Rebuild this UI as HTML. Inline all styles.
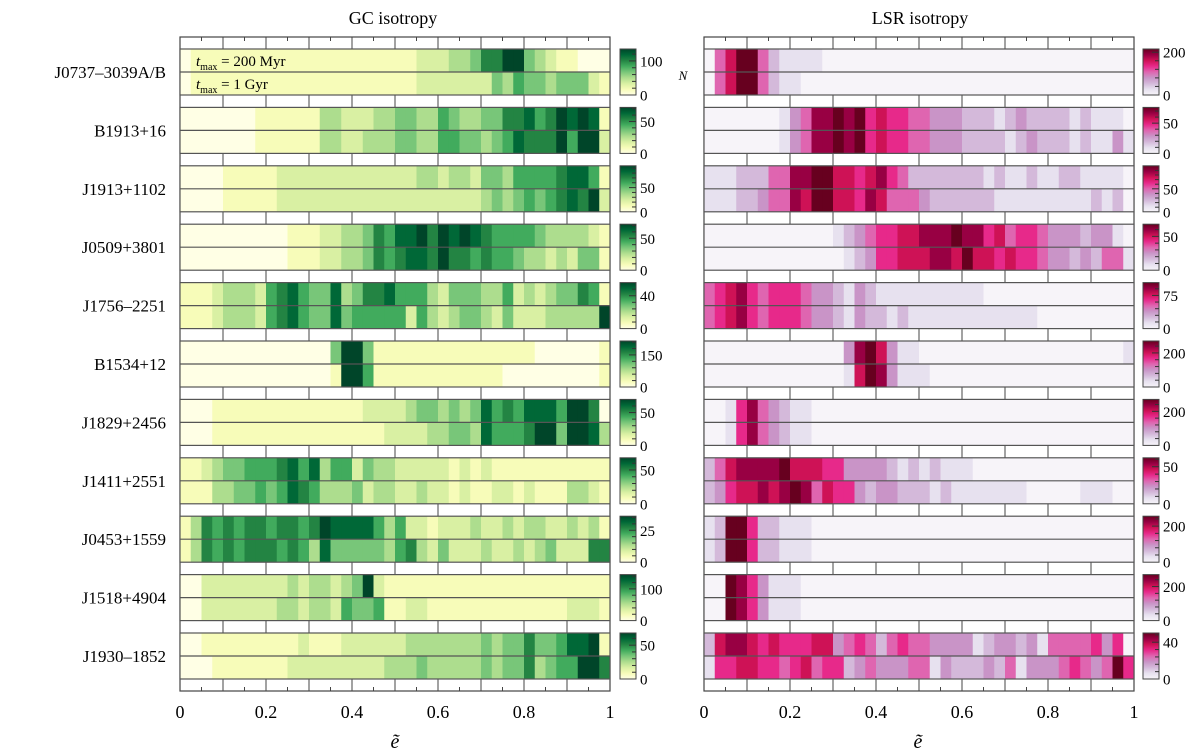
<!DOCTYPE html>
<html><head><meta charset="utf-8">
<style>
body{margin:0;background:#fff;}
svg{display:block;font-family:"Liberation Serif","DejaVu Serif",serif;}
</style></head>
<body>
<svg id="fig" width="1200" height="753" viewBox="0 0 1200 753">
<text x="393" y="24" font-size="18" text-anchor="middle">GC isotropy</text>
<text x="920" y="24" font-size="18" text-anchor="middle">LSR isotropy</text>
<text x="395" y="748" font-size="20" font-style="italic" text-anchor="middle">ẽ</text>
<text x="918" y="748" font-size="20" font-style="italic" text-anchor="middle">ẽ</text>
<text x="683" y="80" font-size="13" font-style="italic" text-anchor="middle">N</text>
<g id="layer"></g>
</svg>
<script>
const pulsars=["J0737–3039A/B","B1913+16","J1913+1102","J0509+3801","J1756–2251","B1534+12","J1829+2456","J1411+2551","J0453+1559","J1518+4904","J1930–1852"];
const xTicks=[0,0.2,0.4,0.6,0.8,1];
const xTickLabels=["0","0.2","0.4","0.6","0.8","1"];
// levels 0-8 per bin (40 bins), [200 Myr, 1 Gyr]
const gcTop=["0111111111111111111111222334668843211000","0000000111111332223344335433446675687871","0000111112222222222222332332443555567751","0000000000111223346577868787655554333321","1112333256754473466755532444335232344651","0000000000000048841111111111111110000001","0001111111111111122223443434756577758860","1123445556757355243322222121211111111111","1365656656656877775352212223223233223231","0022222222323323482111111111111111111111","0011111111121112222223333333434464457781"];
const gcBot=["0111111111111111111111222222243544344421","0000000111111332233344335544345766685882","0000111112222222222222222222343454567682","0000000000111223346567768665655433232441","1112333256754474555552532344324222333338","0000000000000018851111111111110000000001","0001111111111111111222233443755568848873","1113344545765333423322322121122121113321","1365656665653744444356324222322323422266","0022222223323325445112211111111111112221","0001111111222222222333433333434463455886"];
const lsrTop=["0468842111100000000000000000000000000000","0000000134778785655443332221232222121110","1112224477886656754222222212112112211110","0000000000001234556677787756455433323310","4567545554332132111111111100000000000000","0000000000000378631100000000000000000001","0015743211000000000000000000000000000000","2467777866655333321212111000000000000000","1288522111000000000000000000000000000000","0087531110000000000000000000000000000000","2677656555663454245443333123323144445350"];
const lsrBot=["0468842110000000000000000000000000000000","0000000134778785655443332222123222121131","1112234476886657644432222221111111112120","0000000000000123556667768665655433232441","4567545554332132212111111111111000000000","0000000000000168731110000000000000000000","0015743211000000000000000000000000000000","2356676787465532332221211111110000011100","1288522111000000000000000000000000000000","0087531110000000000000000000000000000000","1556655456455234333441322232413334543485"];
const gcCbTick=[100,50,50,50,40,150,50,50,25,100,50];
const gcCbMax=[135,72,95,72,56,215,70,68,36,145,68];
const lsrCbTick=[200,50,50,50,75,200,200,50,200,200,40];
const lsrCbMax=[215,76,100,68,104,270,270,62,255,270,50];

const YlGn=["#ffffe5","#f7fcb9","#d9f0a3","#addd8e","#78c679","#41ab5d","#238443","#006837","#004529"];
const PuRd=["#f7f4f9","#e7e1ef","#d4b9da","#c994c7","#df65b0","#e7298a","#ce1256","#980043","#67001f"];
const NS="http://www.w3.org/2000/svg";
const layer=document.getElementById('layer');
const defs=document.createElementNS(NS,'defs');layer.appendChild(defs);
function mk(tag,attrs,parent){const e=document.createElementNS(NS,tag);for(const k in attrs)e.setAttribute(k,attrs[k]);(parent||layer).appendChild(e);return e;}
const NB=40, PITCH=58.4, HT=23, TOP0=49, FRAME_TOP=37, FRAME_BOT=691;
function rowTop(i){return TOP0+i*PITCH;}
function gradient(id,cm){const g=mk('linearGradient',{id:id,x1:0,y1:1,x2:0,y2:0},defs);cm.forEach((c,k)=>mk('stop',{offset:k/(cm.length-1),'stop-color':c},g));}
gradient('gYlGn',YlGn);gradient('gPuRd',PuRd);

function panel(key,x0,x1,top,bot,cm,grad,cbX,cbTick,cbMax){
  const xs=v=>x0+v*(x1-x0);
  const bw=(x1-x0)/NB;
  const g=mk('g',{});
  
  
  // frame
  const fr=mk('rect',{x:x0,y:FRAME_TOP,width:x1-x0,height:FRAME_BOT-FRAME_TOP,fill:'#fff',stroke:'#444','stroke-width':1.2},g);
  
  
  // ticks spanning gaps
  for(let r=0;r<=pulsars.length;r++){
    const ya=r===0?FRAME_TOP:rowTop(r-1)+2*HT;
    const yb=r===pulsars.length?FRAME_BOT:rowTop(r);
    for(let t=1;t<10;t++){mk('line',{x1:xs(t/10),x2:xs(t/10),y1:ya,y2:yb,stroke:'#444','stroke-width':1},g);}
    if(r===0||r===pulsars.length){
      for(let t=0;t<10;t++){const xm=xs(t/10+0.05);
        if(r===0)mk('line',{x1:xm,x2:xm,y1:ya,y2:ya+4,stroke:'#444'},g);
        else mk('line',{x1:xm,x2:xm,y1:yb-4,y2:yb,stroke:'#444'},g);}
    }
  }
  pulsars.forEach((p,i)=>{
    const y=rowTop(i);
    [top[i],bot[i]].forEach((s,j)=>{
      for(let b=0;b<NB;b++){
        const lv=+s[b];
        const rc=mk('rect',{x:xs(b/NB),y:y+j*HT,width:bw+0.4,height:HT,fill:cm[lv]},g);
        
        
      }
    });
    mk('rect',{x:x0,y:y,width:x1-x0,height:2*HT,fill:'none',stroke:'#555','stroke-width':1.2},g);
    mk('line',{x1:x0,x2:x1,y1:y+HT,y2:y+HT,stroke:'#555','stroke-width':1.2},g);
    // colorbar
    const cb=mk('rect',{x:cbX,y:y,width:16,height:2*HT,fill:'url(#'+grad+')',stroke:'#444','stroke-width':1},g);
    
    
    const yv=v=>y+2*HT-(v/cbMax[i])*2*HT;
    const step=cbTick[i]/5;
    for(let v=step;v<cbMax[i];v+=step){const ty=yv(v);mk('line',{x1:cbX+16,x2:cbX+(Math.abs(v-cbTick[i])<1e-6?9:12),y1:ty,y2:ty,stroke:'#333','stroke-width':1},g);}
    const t1=mk('text',{x:cbX+20,y:yv(cbTick[i])+5.5,'font-size':15},g);t1.textContent=cbTick[i];
    
    
    const t0=mk('text',{x:cbX+20,y:y+2*HT+5.5,'font-size':15},g);t0.textContent='0';
    
    
  });
  xTicks.forEach((v,k)=>{
    const t=mk('text',{x:xs(v),y:718,'font-size':18,'text-anchor':'middle'},g);t.textContent=xTickLabels[k];
    
    
  });
}
panel('gc',180,610,gcTop,gcBot,YlGn,'gYlGn',620,gcCbTick,gcCbMax);
panel('lsr',704,1134,lsrTop,lsrBot,PuRd,'gPuRd',1143,lsrCbTick,lsrCbMax);
pulsars.forEach((p,i)=>{
  const t=mk('text',{x:166,y:rowTop(i)+HT+6,'font-size':17,'text-anchor':'end'});
  t.textContent=p;
  
  
});
const l1=mk('text',{x:196,y:66,'font-size':15});
l1.innerHTML='<tspan font-style="italic">t</tspan><tspan font-size="10" dy="4">max</tspan><tspan dy="-4"> = 200 Myr</tspan>';


const l2=mk('text',{x:196,y:89,'font-size':15});
l2.innerHTML='<tspan font-style="italic">t</tspan><tspan font-size="10" dy="4">max</tspan><tspan dy="-4"> = 1 Gyr</tspan>';


</script>
</body></html>
